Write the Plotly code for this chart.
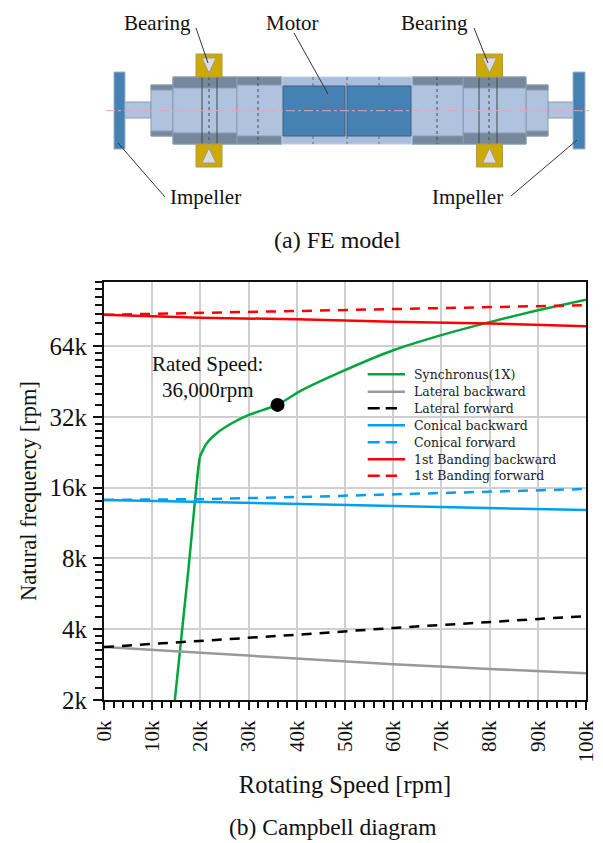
import plotly.graph_objects as go

W, H = 603, 843
FONT = "Liberation Serif"

# ---- data (rpm, in thousands) ----
speed = [0, 20, 40, 60, 80, 100]
lateral_backward = [3.36, 3.17, 2.99, 2.84, 2.71, 2.60]
lateral_forward = [3.36, 3.56, 3.79, 4.05, 4.29, 4.55]
conical_backward = [14.2, 13.9, 13.7, 13.4, 13.1, 12.85]
conical_forward = [14.2, 14.3, 14.6, 15.0, 15.4, 15.8]
banding_backward = [87.0, 84.5, 83.3, 81.2, 80.0, 77.8]
banding_forward = [87.0, 88.6, 90.2, 92.0, 93.9, 95.6]
sync_speed = [14.7, 17.5, 18.9, 19.9, 21.3, 23.4, 26.8, 30.3, 36.0, 40.7, 50, 60, 70, 80, 90, 100]
sync_freq = [2.0, 7.14, 14.2, 21.6, 24.7, 27.3, 30.3, 32.8, 36.0, 41.2, 50.6, 61.5, 71.3, 81, 91, 101]
rated_speed = [36.0]
rated_freq = [36.0]
x_ticks = [0, 10, 20, 30, 40, 50, 60, 70, 80, 90, 100]
y_ticks = [2, 4, 8, 16, 32, 64]
y_minor = [2.25, 2.5, 2.75, 3, 3.25, 3.5, 3.75,
           4.5, 5, 5.5, 6, 6.5, 7, 7.5,
           9, 10, 11, 12, 13, 14, 15,
           18, 20, 22, 24, 26, 28, 30,
           36, 40, 44, 48, 52, 56, 60,
           72, 80, 88, 96, 104, 112, 120]


def k(values):
    return [v * 1000 for v in values]


def px(x):
    return x / W


def py(y):
    return 1 - y / H


series = [
    ("Synchronus(1X)", sync_speed, sync_freq, "#00a53c", "solid"),
    ("Lateral backward", speed, lateral_backward, "#999999", "solid"),
    ("Lateral forward", speed, lateral_forward, "#000000", "10px,8px"),
    ("Conical backward", speed, conical_backward, "#00a0f0", "solid"),
    ("Conical forward", speed, conical_forward, "#00a0f0", "10px,8px"),
    ("1st Banding backward", speed, banding_backward, "#ff0000", "solid"),
    ("1st Banding forward", speed, banding_forward, "#ff0000", "10px,8px"),
]

fig = go.Figure()
for name, xs, ys, color, dash in series:
    shape = "spline" if name.startswith("Sync") else "linear"
    fig.add_trace(go.Scatter(x=k(xs), y=k(ys), name=name, mode="lines", showlegend=False,
                             line=dict(color=color, width=2.5, dash=dash, shape=shape, smoothing=0.5)))
fig.add_trace(go.Scatter(x=k(rated_speed), y=k(rated_freq), mode="markers", showlegend=False,
                         marker=dict(color="black", size=14)))

shapes = []


def rect(x0, y0, x1, y1, fill, line="rgba(0,0,0,0)", w=1, layer="above"):
    shapes.append(dict(type="rect", xref="paper", yref="paper", x0=px(x0), x1=px(x1), layer=layer,
                       y0=py(y0), y1=py(y1), fillcolor=fill, line=dict(color=line, width=w)))


def seg(x0, y0, x1, y1, color="#333333", w=1, dash="solid"):
    shapes.append(dict(type="line", xref="paper", yref="paper", x0=px(x0), x1=px(x1),
                       y0=py(y0), y1=py(y1), line=dict(color=color, width=w, dash=dash)))


def tri(xc, y_base, y_tip, half):
    path = (f"M {px(xc - half)} {py(y_base)} L {px(xc + half)} {py(y_base)} "
            f"L {px(xc)} {py(y_tip)} Z")
    shapes.append(dict(type="path", xref="paper", yref="paper", path=path,
                       fillcolor="#dcdcdc", line=dict(color="#9a9a9a", width=1)))


LIGHT, DARK, BLUE, EDGE = "#afc3de", "#75889c", "#4681b4", "#8a9bb0"
# impellers and shaft stubs
rect(119, 102, 151, 118, LIGHT, EDGE)
rect(548, 102, 579, 118, LIGHT, EDGE)
rect(114, 72, 125, 149, BLUE, "#9fb4cc")
rect(573, 72, 585, 149, BLUE, "#9fb4cc")
# stepped sleeves, left and right
for x0, x1, y0, y1, s in [(151, 173, 85, 136, 5), (526, 548, 85, 136, 5),
                          (173, 237, 77, 144, 11), (463, 526, 77, 144, 11),
                          (237, 282, 77, 144, 8), (412, 463, 77, 144, 8)]:
    rect(x0, y0, x1, y1, LIGHT, EDGE)
    rect(x0, y0, x1, y0 + s, DARK, EDGE)
    rect(x0, y1 - s, x1, y1, DARK, EDGE)
# motor
rect(282, 77, 412, 144, "#a9bedd", "#c2d0e4")
rect(283, 86, 345, 136, BLUE, "#3c5f80")
rect(347, 86, 411, 136, BLUE, "#3c5f80")
# inner lines
for x in (202, 217, 479, 497):
    seg(x, 77, x, 144, "#3d4a58", 1)
for x in (209, 258, 437, 489):
    seg(x, 77, x, 144, "#3d4a58", 1, "dot")
for x in (313, 347, 379):
    seg(x, 77, x, 86, "#5a6c80", 1, "dot")
    seg(x, 136, x, 144, "#5a6c80", 1, "dot")
# bearings
for xc in (209, 489.5):
    rect(xc - 13, 54, xc + 13, 77, "#ccaa00", "#a89a50")
    rect(xc - 13, 144, xc + 13, 167, "#ccaa00", "#a89a50")
    tri(xc, 58, 73, 7)
    tri(xc, 163, 148, 7)
# centre line
seg(106, 110.7, 590, 110.7, "#eba6a6", 1, "dashdot")
# leaders
seg(196, 28, 208, 63)
seg(294, 33, 328, 94)
seg(474, 28, 488, 63)
seg(118, 143, 165, 197)
seg(511, 196, 577, 140)

notes = [("Bearing", 158, 23, 21), ("Motor", 292, 23, 21), ("Bearing", 434, 23, 21),
         ("Impeller", 205, 197, 21), ("Impeller", 467, 197, 21),
         ("(a) FE model", 337, 240, 24), ("(b) Campbell diagram", 333, 827, 23.5),
         ("Rated Speed:", 207, 364, 21), ("36,000rpm", 208, 390, 21)]
annotations = [dict(text=t, xref="paper", yref="paper", x=px(x), y=py(y), showarrow=False,
                    xanchor="center", yanchor="middle",
                    font=dict(family=FONT, size=s, color="#111111"))
               for t, x, y, s in notes]

# key panel over the grid
rect(358, 368, 580, 482, "white", layer="between")
row_y = [374.3, 391.7, 408.3, 425.3, 442.3, 459.3, 475.7]
for (name, _, _, color, dash), y in zip(series, row_y):
    end = 405 if dash == "solid" else 397
    seg(367.7, y, end, y, color, 2.5, dash if dash == "solid" else "12px,6px")
    annotations.append(dict(text=name, xref="paper", yref="paper", x=px(411.7), y=py(y), showarrow=False,
                            xanchor="left", yanchor="middle",
                            font=dict(family="DejaVu Serif", size=12.5, color="#222222")))

fig.update_layout(
    width=W, height=H, autosize=False, margin=dict(l=0, r=0, t=0, b=0),
    paper_bgcolor="white", plot_bgcolor="white", shapes=shapes, annotations=annotations,
    font=dict(family=FONT), showlegend=False,
    xaxis=dict(domain=[px(104), px(586)], range=[0, 100000], tickmode="array", automargin=False,
               tickvals=k(x_ticks), ticktext=[f"{v}k" for v in x_ticks], tickangle=-90,
               ticks="outside", ticklen=8, tickwidth=1.5, tickcolor="#111111",
               tickfont=dict(family=FONT, size=21, color="#111111"), ticklabelstandoff=2,
               showgrid=True, gridcolor="#cfcfcf", gridwidth=1.5, zeroline=False,
               showline=True, linecolor="#111111", linewidth=2, mirror=True,
               minor=dict(dtick=2000, ticks="outside", ticklen=6, tickwidth=1.5,
                          tickcolor="#111111", showgrid=False),
               title=dict(text="Rotating Speed [rpm]", standoff=14,
                          font=dict(family=FONT, size=24.5, color="#111111"))),
    yaxis=dict(domain=[py(700), py(282)], type="log", range=[3.30103, 5.07918], tickmode="array",
               automargin=False,
               tickvals=k(y_ticks), ticktext=[f"{v}k" for v in y_ticks],
               ticks="outside", ticklen=9, tickwidth=1.5, tickcolor="#111111",
               tickfont=dict(family=FONT, size=25, color="#111111"), ticklabelstandoff=1,
               showgrid=True, gridcolor="#cfcfcf", gridwidth=1.5, zeroline=False,
               showline=True, linecolor="#111111", linewidth=2, mirror=True,
               minor=dict(tickmode="array", tickvals=k(y_minor), ticks="outside", ticklen=7,
                          tickwidth=1.5, tickcolor="#111111", showgrid=False),
               title=dict(text="Natural frequency [rpm]", standoff=7,
                          font=dict(family=FONT, size=22.5, color="#111111"))),
)

fig.write_html("out.html", config={"displayModeBar": False},
               post_script="document.body.style.margin='0';")
